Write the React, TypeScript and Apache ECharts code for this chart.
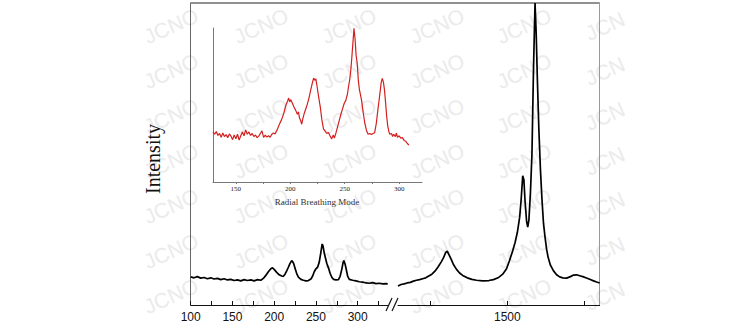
import React, { useEffect, useRef } from "react";
import * as echarts from "echarts";

// Main spectrum, low-wavenumber segment [x, intensity]
const lowX = [100,104,108,112,116,120,124,128,132,136,140,144,148,152,156,160,164,168,172,176,180,184,187,190,193,196,198,200,203,206,209,211,213,215,217,219,221,222,223.5,225,227,229,232,235,238,241,244,246,248,250,252,254,256,257.5,258.5,260,261.5,263,265,267,269,271,274,277,279,281,282.5,283.5,285,286.5,288,290,294,298,302,306,310,314,318,322,326,330,334,336];
const lowY = [9.3,9.0,9.4,8.9,9.1,8.7,9.0,8.6,8.8,8.4,8.7,8.3,8.5,8.1,8.3,8.0,8.4,8.1,8.3,8.0,8.4,8.2,8.8,9.8,11.0,12.0,12.3,11.8,10.8,10.0,9.6,9.5,10.2,11.3,12.5,13.8,14.7,14.4,13.6,12.2,10.4,9.2,8.5,8.2,8.0,8.1,8.6,9.5,11.0,12.0,12.5,14.2,17.5,20.2,19.6,17.2,15.5,13.8,12.3,10.5,9.2,8.5,8.3,8.4,9.5,11.8,14.0,14.7,13.5,11.6,9.6,8.5,8.2,8.0,7.7,7.6,7.3,7.2,7.4,7.1,7.2,7.0,7.1,7.0];

// Main spectrum, high-wavenumber segment
const highX = [1358,1362,1366,1370,1374,1378,1382,1386,1390,1394,1398,1402,1406,1410,1414,1417,1420,1422,1424,1427,1430,1434,1438,1442,1448,1454,1460,1468,1476,1482,1488,1494,1499,1503,1507,1510,1513,1516,1518,1520,1521.5,1523,1525,1526.5,1528,1530,1532,1534,1536,1537.5,1539,1541,1543,1545,1547,1549,1551,1553,1556,1560,1564,1568,1572,1577,1582,1586,1590,1594,1598,1602,1607,1612,1616,1620];
const highY = [6.3,6.8,7.0,7.3,7.5,7.9,8.2,8.4,8.7,9.0,9.6,10.2,11.2,12.6,14.2,15.6,17.4,17.8,16.8,15.2,13.4,11.8,10.6,9.8,9.0,8.5,8.2,8.0,8.1,8.4,9.0,10.2,12.0,14.8,18.0,20.6,24.0,29.0,35.0,42.8,41.5,34.5,27.8,25.8,28.0,37.0,50.0,78.0,100,90,75,58,45,35,27,22.5,18.5,15.8,13.2,11.3,10.0,9.3,9.0,8.9,9.4,9.9,10.0,9.7,9.4,9.0,8.5,8.0,7.6,7.3];

// Inset: radial breathing mode
const rbmX = [129,130.5,132,133.5,135,136.5,138,139.5,141,142.5,144,145.5,147,148.5,150,151.5,153,154.5,156,157.5,159,160.5,162,163.5,165,166.5,168,169.5,171,172.5,174,175.5,177,178.5,180,181.5,183,184.5,186,188,190,192,194,196,197.5,198.5,199.5,200.5,202,203.5,205,206.5,207.5,208.5,209.5,210.5,211.5,213,215,217,219,220.5,221.5,222.5,223.5,224.5,226,227.5,229,230.5,232,233.5,235,236.5,238,239.5,240.5,242,243.5,245,246.5,248,249.5,251,252.5,253.5,254.5,255.5,256.5,257.5,258.5,259.5,260.5,261.5,262.5,263.5,264.5,265.5,267,268.5,270,271.5,273,274.5,276,277.5,279,280.5,282,283.5,284.5,285.5,286.5,287.5,288.5,289.5,290.5,291.5,293,294,295,296.5,297.5,298.5,300,301.5,303,304.5,306,307.5,309];
const rbmY = [32.5,31.0,32.8,30.2,31.5,29.0,31.8,29.5,30.8,28.8,31.2,29.8,27.5,30.5,28.0,31.0,27.2,30.0,32.5,30.0,33.8,31.0,32.5,30.2,31.5,29.5,30.5,28.8,29.8,31.5,33.2,29.0,30.5,29.2,30.0,29.0,31.0,31.8,31.2,34.0,37.5,40.5,44.5,50.0,52.5,54.5,52.0,53.5,51.0,48.5,46.5,44.0,45.5,41.5,40.0,37.5,41.0,45.0,49.0,54.0,60.5,65.0,67.5,66.0,67.0,62.5,55.5,49.0,40.5,34.5,33.0,31.5,32.2,30.0,28.0,30.5,28.5,32.0,36.0,40.0,44.0,47.5,51.0,53.0,57.0,62.0,66.0,72.0,80.5,90.0,99.8,93.0,82.0,77.0,66.0,60.0,56.5,53.0,45.0,38.0,33.5,31.0,31.5,30.8,31.5,32.0,38.0,47.0,55.5,64.5,67.3,65.0,60.0,52.0,43.0,36.5,33.0,31.0,31.5,29.5,31.0,29.5,31.8,29.0,30.0,28.5,28.8,27.0,26.5,25.0,24.0];

const lowTicks = [100,125,150,175,200,225,250,275,300,325];
const lowLabels = [100,150,200,250,300];
const highTicks = [1400,1500,1600];
const highLabels = [1500];
const rbmTicks = [150,175,200,225,250,275,300];
const rbmLabels = [150,200,250,300];

const watermarkCols = [137, 227, 315, 403, 490, 577];
const watermarkRows = [26, 71, 116, 161, 206, 251, 296];

const zip = (xs: number[], ys: number[]) => xs.map((x, i) => [x, ys[i]]);
const plain = (v: number) => String(v);

export default function App() {
  const ref = useRef<HTMLDivElement>(null);
  useEffect(() => {
    if (!ref.current) return;
    const chart = echarts.init(ref.current, undefined, { renderer: "svg" });

    const wm: any[] = [];
    watermarkCols.forEach((cx, ci) => {
      watermarkRows.forEach((ry) => {
        const last = ci === watermarkCols.length - 1;
        wm.push({
          type: "text",
          x: cx + (last ? 28 : 34),
          y: ry,
          rotation: 0.42,
          z: -10,
          silent: true,
          style: {
            text: last ? "JCN" : "JCNO",
            fill: "#ebebeb",
            font: "21px 'Liberation Sans', Arial, sans-serif",
            align: "center",
            verticalAlign: "middle",
          },
        });
      });
    });

    const hiddenY = (gridIndex: number, color: string, position?: string) => ({
      type: "value",
      gridIndex,
      min: 0,
      max: 100,
      position,
      axisLine: { show: true, onZero: false, lineStyle: { color, width: 1 } },
      axisTick: { show: false },
      axisLabel: { show: false },
      splitLine: { show: false },
    });

    const mainLabel = {
      color: "#111",
      fontSize: 12,
      fontFamily: "'Liberation Sans', Arial, sans-serif",
      margin: 6,
      formatter: plain,
    };

    chart.setOption({
      animation: false,
      backgroundColor: "#fff",
      grid: [
        { left: 190.7, top: 3, width: 197, height: 302, outerBoundsMode: "none" },
        { left: 398, top: 3, width: 201.7, height: 302, outerBoundsMode: "none" },
        { left: 213, top: 28, width: 209, height: 154, outerBoundsMode: "none" },
      ],
      xAxis: [
        {
          type: "value",
          gridIndex: 0,
          min: 100,
          max: 336,
          axisLine: { show: true, onZero: false, lineStyle: { color: "#111", width: 1 } },
          axisTick: { show: true, inside: true, length: 4, customValues: lowTicks, lineStyle: { color: "#111" } },
          axisLabel: { ...mainLabel, customValues: lowLabels },
          splitLine: { show: false },
        },
        {
          type: "value",
          gridIndex: 1,
          min: 1358,
          max: 1620,
          axisLine: { show: true, onZero: false, lineStyle: { color: "#111", width: 1 } },
          axisTick: { show: true, inside: true, length: 4, customValues: highTicks, lineStyle: { color: "#111" } },
          axisLabel: { ...mainLabel, customValues: highLabels },
          splitLine: { show: false },
        },
        {
          type: "value",
          gridIndex: 2,
          min: 129,
          max: 321,
          axisLine: { show: true, onZero: false, lineStyle: { color: "#777", width: 1 } },
          axisTick: { show: true, inside: false, length: 2, customValues: rbmTicks, lineStyle: { color: "#777" } },
          axisLabel: {
            customValues: rbmLabels,
            color: "#222",
            fontSize: 7,
            margin: 3,
            formatter: plain,
            fontFamily: "'Liberation Serif', 'Times New Roman', serif",
          },
          splitLine: { show: false },
        },
      ],
      yAxis: [hiddenY(0, "#666"), hiddenY(1, "#999", "right"), hiddenY(2, "#777")],
      series: [
        {
          type: "line",
          xAxisIndex: 0,
          yAxisIndex: 0,
          data: zip(lowX, lowY),
          showSymbol: false,
          lineStyle: { color: "#000", width: 1.7 },
          z: 3,
        },
        {
          type: "line",
          xAxisIndex: 1,
          yAxisIndex: 1,
          data: zip(highX, highY),
          showSymbol: false,
          lineStyle: { color: "#000", width: 1.7 },
          z: 3,
        },
        {
          type: "line",
          xAxisIndex: 2,
          yAxisIndex: 2,
          data: zip(rbmX, rbmY),
          showSymbol: false,
          lineStyle: { color: "#d3201f", width: 1.2 },
          z: 3,
        },
      ],
      graphic: [
        ...wm,
        {
          type: "line",
          shape: { x1: 190.7, y1: 3, x2: 599.7, y2: 3 },
          style: { stroke: "#222", lineWidth: 1 },
          silent: true,
        },
        {
          type: "line",
          shape: { x1: 386, y1: 311, x2: 392, y2: 298 },
          style: { stroke: "#111", lineWidth: 1.2 },
          silent: true,
        },
        {
          type: "line",
          shape: { x1: 392, y1: 311, x2: 398, y2: 298 },
          style: { stroke: "#111", lineWidth: 1.2 },
          silent: true,
        },
        {
          type: "text",
          x: 153,
          y: 159,
          rotation: Math.PI / 2,
          style: {
            text: "Intensity",
            fill: "#111",
            font: "20px 'Liberation Serif', 'Times New Roman', serif",
            align: "center",
            verticalAlign: "middle",
          },
        },
        {
          type: "text",
          x: 317,
          y: 202,
          style: {
            text: "Radial Breathing Mode",
            fill: "#333",
            font: "9px 'Liberation Serif', 'Times New Roman', serif",
            align: "center",
            verticalAlign: "middle",
          },
        },
      ],
    });
    return () => chart.dispose();
  }, []);
  return (
    <div
      ref={ref}
      style={{ position: "fixed", left: 0, top: 0, width: 748, height: 330 }}
    />
  );
}
